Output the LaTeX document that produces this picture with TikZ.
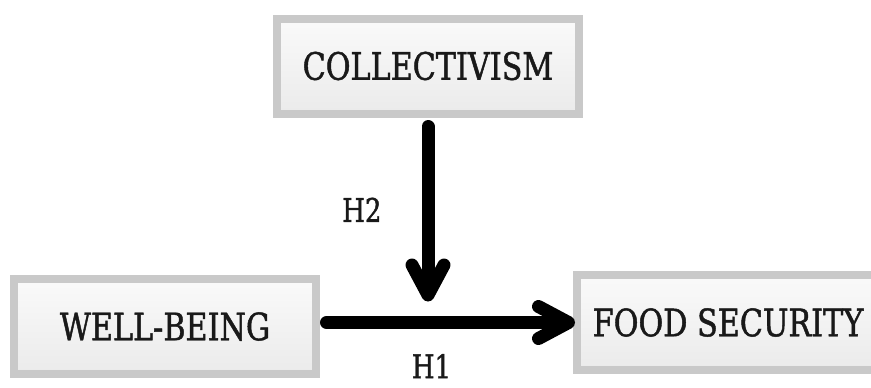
\documentclass[tikz,border=0pt]{standalone}
\usepackage{fontspec}
\setmainfont{DejaVu Serif}[FakeStretch=0.8,FakeBold=1.2]
\usetikzlibrary{arrows.meta}

\tikzset{
    varbox/.style={draw=gray!42,line width=8*0.02cm,top color=white!96!gray,bottom color=gray!16,
        minimum width=302*0.02cm,minimum height=95*0.02cm,inner sep=0pt,text=black!90,
        font=\fontsize{21.5}{25}\selectfont},
    hyparrow/.style={line width=13*0.02cm,line cap=round,-{Straight Barb[round,length=0.6cm,width=0.64cm]}},
    hyplabel/.style={font=\fontsize{18.5}{22}\selectfont,inner sep=0pt,text=black!90}
}

\begin{document}
\begin{tikzpicture}[x=0.02cm,y=-0.02cm]
    \useasboundingbox (0,0) rectangle (871,387);
    \begin{scope}
    \clip (0,0) rectangle (871,387);
    \node[varbox] (coll) at (428,66) {COLLECTIVISM};
    \node[varbox] (well) at (165,326.5) {WELL-BEING};
    \node[varbox] (food) at (728,322.5) {FOOD SECURITY};
    \end{scope}
    \coordinate (meet) at (coll.south |- food.west);
    % H1: well-being -> food security
    \draw[hyparrow,shorten <=6.5*0.02cm,shorten >=-2*0.02cm] (well.east |- food.west) -- (food.west)
        node[hyplabel,midway,below=25*0.02cm,xshift=-15*0.02cm] (h1) {H1};
    % H2: collectivism on the H1 path
    \draw[hyparrow,shorten <=9*0.02cm,shorten >=21*0.02cm] (coll.south) -- (meet)
        node[hyplabel,pos=0.45,left=40*0.02cm] (h2) {H2};
\end{tikzpicture}
\end{document}
